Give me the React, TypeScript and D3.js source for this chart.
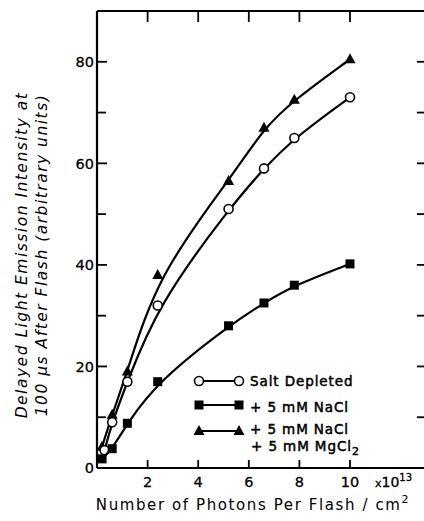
import * as d3 from "d3"

// photons per flash (x10^13) vs delayed light emission
const saltDepleted: [number, number][] = [
  [0.3, 3.5], [0.6, 9], [1.2, 17], [2.4, 32], [5.2, 51], [6.6, 59], [7.8, 65], [10, 73],
]
const naCl: [number, number][] = [
  [0.2, 1.8], [0.6, 3.8], [1.2, 8.8], [2.4, 17], [5.2, 28], [6.6, 32.5], [7.8, 36], [10, 40.2],
]
const naClMgCl2: [number, number][] = [
  [0.2, 4.2], [0.6, 10.5], [1.2, 19], [2.4, 38], [5.2, 56.5], [6.6, 67], [7.8, 72.5], [10, 80.5],
]
const xTicks = [2, 4, 6, 8, 10]
const yTicks = [10, 20, 30, 40, 50, 60, 70, 80]
const yLabels = [0, 20, 40, 60, 80]

const W = 424
const H = 521
const margin = { top: 11, left: 97 }
const font = "'DejaVu Sans', 'Liberation Sans', sans-serif"

function Marker({ kind, x, y }: { kind: string; x: number; y: number }) {
  if (kind === "circle")
    return <circle cx={x} cy={y} r={4.5} fill="#fff" stroke="#000" strokeWidth={1.6} />
  if (kind === "square") return <rect x={x - 4.5} y={y - 4.5} width={9} height={9} fill="#000" />
  return <path d={`M${x},${y - 6}L${x + 5.5},${y + 4}L${x - 5.5},${y + 4}Z`} fill="#000" />
}

export default function App() {
  const x = d3.scaleLinear().domain([0, 13]).range([margin.left, margin.left + 13 * 25.3])
  const y = d3.scaleLinear().domain([0, 90]).range([468, margin.top])

  const line = d3
    .line<[number, number]>()
    .x((d) => x(d[0]))
    .y((d) => y(d[1]))
    .curve(d3.curveBasis)

  const series = [
    { data: naClMgCl2, kind: "triangle" },
    { data: saltDepleted, kind: "circle" },
    { data: naCl, kind: "square" },
  ]

  const legend = [
    { kind: "circle", label: "Salt Depleted", ly: 381, ty: 381 },
    { kind: "square", label: "+ 5 mM NaCl", ly: 405, ty: 407 },
    { kind: "triangle", label: "+ 5 mM NaCl", ly: 431, ty: 429 },
  ]

  const x0 = x(0)
  const x1 = x(13)
  const y0 = y(0)
  const yTop = y(90)

  return (
    <svg width={W} height={H} style={{ display: "block", position: "absolute", left: 0, top: 0 }}>
      <rect width={W} height={H} fill="#fff" />
      {/* frame */}
      <g stroke="#000" strokeWidth={2.2} fill="none">
        <line x1={x0} y1={yTop} x2={x1} y2={yTop} />
        <line x1={x0} y1={yTop} x2={x0} y2={y0} />
        <line x1={x0} y1={y0} x2={x1} y2={y0} />
        <line x1={x1} y1={yTop} x2={x1} y2={y0} />
      </g>
      {/* ticks */}
      <g stroke="#000" strokeWidth={1.8}>
        {xTicks.map((t) => (
          <g key={t}>
            <line x1={x(t)} x2={x(t)} y1={yTop} y2={yTop + 11} />
            <line x1={x(t)} x2={x(t)} y1={y0} y2={y0 - 8} />
          </g>
        ))}
        {yTicks.map((t) => (
          <g key={t}>
            <line x1={x0} x2={x0 + (t % 20 === 0 ? 10 : 9)} y1={y(t)} y2={y(t)} />
            <line x1={x1} x2={x1 - 9} y1={y(t)} y2={y(t)} />
          </g>
        ))}
      </g>
      {/* tick labels */}
      <g fontFamily={font} fontSize={14.5} fill="#000" stroke="#000" strokeWidth={0.3}>
        {yLabels.map((t) => (
          <text key={t} x={x0 - 3} y={y(t)} dy="0.36em" textAnchor="end">
            {t}
          </text>
        ))}
        {xTicks.map((t) => (
          <text key={t} x={x(t)} y={y0 + 19} textAnchor="middle">
            {t}
          </text>
        ))}
      </g>
      <text x={x(10) + 25} y={y0 + 19} fontFamily={font} fontSize={14} stroke="#000" strokeWidth={0.3}>
        <tspan fontSize={11}>x</tspan>10<tspan dy={-6} fontSize={10}>13</tspan>
      </text>
      {/* curves */}
      {series.map((s) => (
        <g key={s.kind}>
          <path d={line(s.data) ?? ""} fill="none" stroke="#000" strokeWidth={2.2} />
          {s.data.map((d, i) => (
            <Marker key={i} kind={s.kind} x={x(d[0])} y={y(d[1])} />
          ))}
        </g>
      ))}
      {/* legend */}
      <g fontFamily={font} fontSize={13.5} letterSpacing={0.9}>
        {legend.map((l) => (
          <g key={l.ly}>
            <line x1={199} x2={239} y1={l.ly} y2={l.ly} stroke="#000" strokeWidth={2.2} />
            <Marker kind={l.kind} x={199} y={l.ly} />
            <Marker kind={l.kind} x={239} y={l.ly} />
            <text x={250} y={l.ty} dy="0.36em" stroke="#000" strokeWidth={0.5}>
              {l.label}
            </text>
          </g>
        ))}
        <text x={251} y={446} dy="0.36em" stroke="#000" strokeWidth={0.5}>
          + 5 mM MgCl<tspan dy={4} fontSize={11}>2</tspan>
        </text>
      </g>
      {/* axis titles */}
      <text
        x={253}
        y={510}
        textAnchor="middle"
        fontFamily={font}
        fontSize={15}
        letterSpacing={1.6}
      >
        Number of Photons Per Flash / cm<tspan dy={-7} fontSize={11}>2</tspan>
      </text>
      <g
        transform="translate(0,255) rotate(-90)"
        fontFamily={font}
        fontSize={15.5}
        fontStyle="italic"
        letterSpacing={1.5}
      >
        <text x={0} y={27} textAnchor="middle">
          Delayed Light Emission Intensity at
        </text>
        <text x={0} y={47} textAnchor="middle">
          100 μs After Flash (arbitrary units)
        </text>
      </g>
    </svg>
  )
}
